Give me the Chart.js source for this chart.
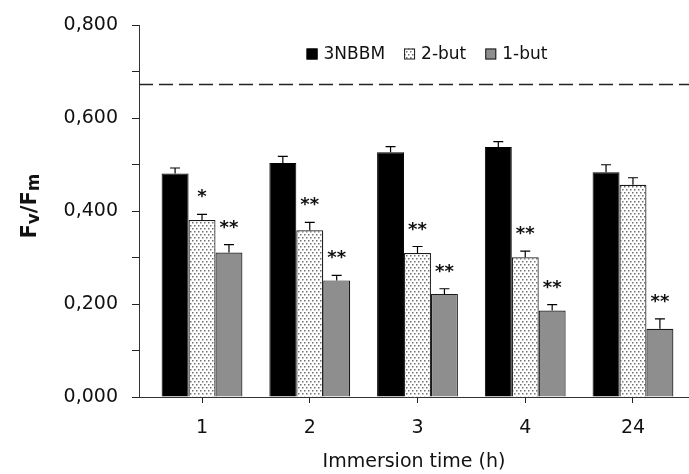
<!DOCTYPE html>
<html>
<head>
<meta charset="utf-8">
<script src="https://cdn.jsdelivr.net/npm/chart.js@4.4.0/dist/chart.umd.min.js"></script>
<style>
    html, body { margin: 0; padding: 0; background: #fff; }
    #chart-wrap { width: 689px; height: 474px; }
</style>
</head>
<body>
<div id="chart-wrap"><canvas id="fvfm-chart"></canvas></div>
<script>
const categories = ['1', '2', '3', '4', '24'];
const seriesNames = ['3NBBM', '2-but', '1-but'];

const nbbmValues = [0.481, 0.504, 0.527, 0.538, 0.484];
const nbbmErrors = [0.012, 0.014, 0.012, 0.012, 0.016];
const but2Values = [0.381, 0.359, 0.310, 0.301, 0.457];
const but2Errors = [0.012, 0.017, 0.014, 0.013, 0.015];
const but1Values = [0.311, 0.251, 0.222, 0.186, 0.147];
const but1Errors = [0.017, 0.011, 0.011, 0.013, 0.021];

// significance stars over each bar
const nbbmMarks = ['', '', '', '', ''];
const but2Marks = ['*', '**', '**', '**', ''];
const but1Marks = ['**', '**', '**', '**', '**'];

// dashed reference line (untreated control)
const controlLevel = 0.673;

const fontFamily = '"DejaVu Sans", "Liberation Sans", Arial, sans-serif';

// white with grey dots, for the 2-but bars
function makeDotPattern() {
    const tile = document.createElement('canvas');
    tile.width = 4;
    tile.height = 6;
    const tctx = tile.getContext('2d');
    tctx.fillStyle = '#ffffff';
    tctx.fillRect(0, 0, 4, 6);
    tctx.fillStyle = '#707070';
    tctx.fillRect(0, 0, 1.5, 1.5);
    tctx.fillRect(2, 3, 1.5, 1.5);
    return document.getElementById('fvfm-chart').getContext('2d').createPattern(tile, 'repeat');
}

const slotOf = categories.map((_, i) => i + 1);
const toPoints = (vals) => vals.map((v, i) => ({ x: slotOf[i], y: v }));

const errorSets = [nbbmErrors, but2Errors, but1Errors];
const valueSets = [nbbmValues, but2Values, but1Values];
const markSets = [nbbmMarks, but2Marks, but1Marks];

// legend sits inside the plot, a bit right of centre
function drawLegend(chart) {
    const ctx = chart.ctx;
    const box = 11, gap = 6, spacing = 19;
    const cx = 427, cy = 54;
    ctx.save();
    ctx.font = '17px ' + fontFamily;
    ctx.textBaseline = 'middle';
    ctx.textAlign = 'left';
    const widths = chart.data.datasets.map(ds => box + gap + ctx.measureText(ds.label).width);
    const total = widths.reduce((a, b) => a + b, 0) + spacing * (widths.length - 1);
    let x = cx - total / 2;
    chart.data.datasets.forEach((ds, i) => {
        ctx.fillStyle = ds.backgroundColor;
        ctx.fillRect(x, cy - box / 2, box, box);
        ctx.strokeStyle = ds.borderColor;
        ctx.lineWidth = 1;
        ctx.strokeRect(x + 0.5, cy - box / 2 + 0.5, box - 1, box - 1);
        ctx.fillStyle = '#111';
        ctx.fillText(ds.label, x + box + gap, cy + 1);
        x += widths[i] + spacing;
    });
    ctx.restore();
}

const extrasPlugin = {
    id: 'extras',
    afterDatasetsDraw(chart) {
        const ctx = chart.ctx;
        const yScale = chart.scales.y;
        const area = chart.chartArea;

        // dashed control line
        ctx.save();
        ctx.strokeStyle = '#222';
        ctx.lineWidth = 1.5;
        ctx.setLineDash([14, 6]);
        const yc = yScale.getPixelForValue(controlLevel);
        ctx.beginPath();
        ctx.moveTo(area.left, yc);
        ctx.lineTo(area.right, yc);
        ctx.stroke();
        ctx.restore();

        ctx.save();
        ctx.strokeStyle = '#000';
        ctx.lineWidth = 1.2;
        ctx.fillStyle = '#111';
        ctx.font = 'bold 18px ' + fontFamily;
        ctx.textAlign = 'center';
        ctx.textBaseline = 'alphabetic';
        chart.data.datasets.forEach((ds, di) => {
            const meta = chart.getDatasetMeta(di);
            meta.data.forEach((bar, j) => {
                const top = yScale.getPixelForValue(valueSets[di][j] + errorSets[di][j]);
                ctx.beginPath();
                ctx.moveTo(bar.x, bar.y);
                ctx.lineTo(bar.x, top);
                ctx.moveTo(bar.x - 5, top);
                ctx.lineTo(bar.x + 5, top);
                ctx.stroke();
                const mark = markSets[di][j];
                if (mark) {
                    ctx.fillText(mark, bar.x, top - 12);
                }
            });
        });
        ctx.restore();

        drawLegend(chart);
    },
    afterDraw(chart) {
        // y title Fv/Fm with subscripts
        const ctx = chart.ctx;
        const big = 'bold 21px ' + fontFamily;
        const small = 'bold 17px ' + fontFamily;
        const parts = [['F', big, 0], ['v', small, 3], ['/F', big, 0], ['m', small, 3]];
        ctx.save();
        ctx.translate(36, 206);
        ctx.rotate(-Math.PI / 2);
        ctx.fillStyle = '#111';
        ctx.textBaseline = 'alphabetic';
        let total = 0;
        parts.forEach(p => { ctx.font = p[1]; total += ctx.measureText(p[0]).width; });
        let x = -total / 2;
        parts.forEach(p => {
            ctx.font = p[1];
            ctx.fillText(p[0], x, p[2]);
            x += ctx.measureText(p[0]).width;
        });
        ctx.restore();
    }
};

new Chart(document.getElementById('fvfm-chart'), {
    type: 'bar',
    data: {
        datasets: [{
            label: seriesNames[0],
            data: toPoints(nbbmValues),
            backgroundColor: '#000000',
            borderColor: '#000000',
            borderWidth: 1
        }, {
            label: seriesNames[1],
            data: toPoints(but2Values),
            backgroundColor: makeDotPattern(),
            borderColor: '#1a1a1a',
            borderWidth: 1.2
        }, {
            label: seriesNames[2],
            data: toPoints(but1Values),
            backgroundColor: '#8e8e8e',
            borderColor: '#1a1a1a',
            borderWidth: 1.2
        }]
    },
    options: {
        responsive: true,
        maintainAspectRatio: false,
        animation: false,
        categoryPercentage: 0.75,
        barPercentage: 1.0,
        layout: { padding: { top: 22, left: 0, right: 0, bottom: 0 } },
        scales: {
            x: {
                type: 'linear',
                offset: false,
                min: 0.415,
                max: 5.52,
                afterBuildTicks: (scale) => {
                    scale.ticks = slotOf.map(v => ({ value: v }));
                },
                afterFit: (scale) => { scale.height = 77; },
                ticks: {
                    callback: (val) => categories[val - 1],
                    color: '#111',
                    font: { family: fontFamily, size: 19 },
                    padding: 14,
                    maxRotation: 0
                },
                grid: {
                    offset: false,
                    drawOnChartArea: false,
                    drawTicks: true,
                    tickLength: 6,
                    color: '#222'
                },
                border: { color: '#333', width: 1 },
                title: {
                    display: true,
                    text: 'Immersion time (h)',
                    color: '#111',
                    font: { family: fontFamily, size: 19 },
                    padding: { top: 0, bottom: 1 }
                }
            },
            y: {
                min: 0,
                max: 0.8,
                afterFit: (scale) => { scale.width = 139; },
                ticks: {
                    stepSize: 0.1,
                    callback: (val) => Math.round(val * 10) % 2 === 0 ? val.toFixed(3).replace('.', ',') : '',
                    color: '#111',
                    font: { family: fontFamily, size: 19 },
                    padding: 14
                },
                grid: {
                    drawOnChartArea: false,
                    drawTicks: true,
                    tickLength: 7,
                    color: '#222'
                },
                border: { color: '#333', width: 1 }
            }
        },
        plugins: {
            legend: { display: false },
            tooltip: { enabled: false }
        }
    },
    plugins: [extrasPlugin]
});
</script>
</body>
</html>
